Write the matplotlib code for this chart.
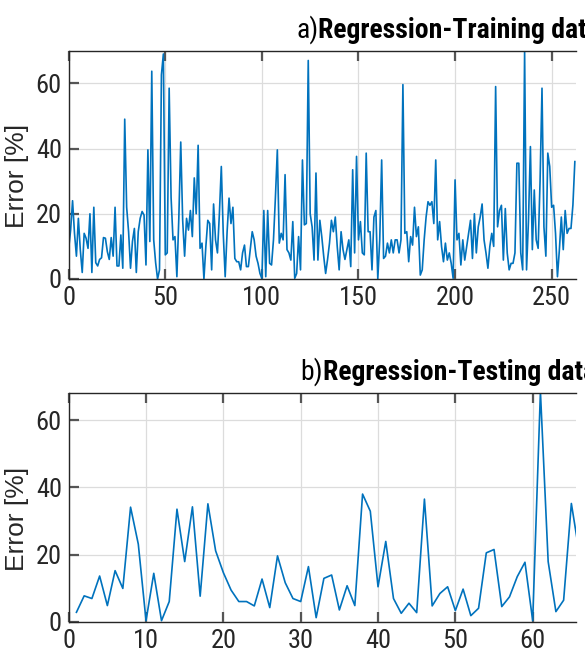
import matplotlib
matplotlib.use("Agg")
import matplotlib.pyplot as plt
from matplotlib import font_manager as fm
import numpy as np

# ---------------- data ----------------
train_err = [
    9.4, 15, 24, 14, 7, 18.6, 9, 2, 14, 12.5,
    9.4, 20, 2, 22, 5, 4, 6, 6.5, 12.7, 12.5,
    8.4, 6, 12.7, 7, 22, 4, 4, 13.5, 3.3, 49,
    22, 14.5, 3.3, 11.5, 15.5, 2, 14.5, 18.6, 20.7, 19.6,
    4.3, 39.6, 11.5, 63.7, 12, 5, 0, 2.8, 62.6, 69,
    7.4, 8, 58.5, 25, 12, 13, 0.7, 18.6, 42, 18,
    7, 18.6, 15, 21, 13, 31, 20, 41, 9.4, 11,
    0, 10, 18, 17, 2.8, 23, 12, 8, 20, 34.5,
    14, 0.7, 14.5, 24.8, 17, 22, 6.3, 5.3, 5.3, 2.8,
    8, 10.4, 3.8, 3.8, 9, 14.5, 12, 7, 4.8, 1.7,
    0.2, 21, 0.7, 21, 4.8, 4.3, 12, 25, 39.6, 11,
    14, 12, 32, 9, 8, 5.8, 17.6, 0.2, 1.7, 13,
    2.8, 36.5, 16.6, 17, 67, 20, 16, 5.8, 32.5, 5.8,
    18, 13, 7, 1.7, 6, 11, 18, 14.5, 19, 10,
    2.8, 14.5, 9, 6, 9, 12, 3.8, 33.5, 8, 37.6,
    12, 17.6, 8, 7.4, 38.6, 14.5, 14.5, 2.8, 19, 21,
    0, 12, 36.5, 6.3, 7, 11, 8, 12, 8, 12,
    12, 8, 12, 59.6, 14, 14.5, 5.3, 13, 10.4, 22,
    13, 16, 1.2, 2.8, 12, 19, 23.7, 22.6, 23.7, 17,
    36.5, 12, 17.6, 10, 5.3, 11, 5.8, 8, 4.8, 0.2,
    30.4, 12, 14, 4.3, 12, 5.8, 10, 14, 18, 6.3,
    20, 8, 16, 19, 23, 12, 8, 3.3, 10, 14,
    10, 59, 16, 21, 22.6, 5.8, 21.6, 8, 2.8, 4.8,
    4.8, 8, 35.5, 35.5, 8, 2.8, 70, 2.8, 18, 40.6,
    9, 27.3, 12, 9.4, 30, 58.5, 16, 7, 38.6, 34.5,
    22, 22.6, 14, 0.7, 9, 19, 9, 21, 14, 15.5,
    15.5, 22.7, 36,
]
test_err = [
    2.8, 7.7, 6.9, 13.6, 4.8, 15.2, 9.9, 34.1, 23.1, 0.3,
    14.4, 0.3, 6.0, 33.5, 17.9, 34.2, 7.6, 35.1, 21.1, 14.6,
    9.4, 6.0, 6.0, 4.7, 12.7, 4.2, 19.6, 11.6, 6.9, 6.0,
    16.4, 1.2, 12.9, 13.9, 3.5, 10.7, 4.8, 38.0, 32.9, 10.4,
    23.9, 6.9, 2.5, 5.5, 2.7, 36.5, 4.7, 8.4, 10.4, 3.3,
    9.7, 1.8, 4.0, 20.5, 21.5, 4.5, 7.4, 13.4, 17.7, 0.3,
    68.5, 17.9, 3.0, 6.4, 35.2, 20.8,
]
train_x = np.arange(len(train_err))
test_x = np.arange(1, len(test_err) + 1)

train_xticks = [0, 50, 100, 150, 200, 250]
test_xticks = [0, 10, 20, 30, 40, 50, 60]
yticks = [0, 20, 40, 60]

# ---------------- fonts ----------------
names = {f.name for f in fm.fontManager.ttflist}
narrow = "DejaVu Sans"
for cand in ["Roboto Condensed", "PT Sans Narrow", "Archivo Narrow", "Barlow Condensed"]:
    if cand in names:
        narrow = cand
        break
plt.rcParams["font.family"] = [narrow, "DejaVu Sans"]
wide = ["Liberation Sans", "DejaVu Sans"]

LINE = "#0072BD"
AXC = "#262626"

W, H = 585, 664
fig = plt.figure(figsize=(W / 100, H / 100), dpi=100)

def px_axes(left, top, right, bottom):
    return fig.add_axes([left / W, 1 - bottom / H, (right - left) / W, (bottom - top) / H])

ax1 = px_axes(68.7, 50.7, 576, 279)
ax2 = px_axes(68.7, 393.3, 576, 621.7)

def style(ax, xticks, xmax, ymax):
    ax.set_xlim(0, xmax)
    ax.set_ylim(0, ymax)
    ax.set_xticks(xticks)
    ax.set_yticks(yticks)
    ax.grid(True, color="#dcdcdc", linewidth=0.9)
    ax.set_axisbelow(True)
    ax.spines["right"].set_visible(False)
    for s in ("left", "top", "bottom"):
        ax.spines[s].set_color(AXC)
        ax.spines[s].set_linewidth(1.0)
    ax.tick_params(axis="both", direction="in", top=True, right=False,
                   length=7, width=1.6, color="#555555",
                   labelsize=19, labelcolor=AXC)
    ax.tick_params(axis="x", pad=5)
    ax.tick_params(axis="y", pad=5)
    ax.set_ylabel("Error [%]", fontsize=19, color=AXC, family=wide)
    ax.yaxis.set_label_coords(-0.078, 0.45)

ax1.plot(train_x, train_err, color=LINE, linewidth=1.2)
style(ax1, train_xticks, 262.6, 70)

ax2.plot(test_x, test_err, color=LINE, linewidth=1.2)
style(ax2, test_xticks, 65.6, 68)

# titles
fig.text(297 / W, 1 - 38 / H, "a)", fontsize=20, color="black", va="baseline", ha="left")
fig.text(318 / W, 1 - 38 / H, "Regression-Training data", fontsize=20, fontweight="bold",
         color="black", va="baseline", ha="left")
fig.text(300 / W, 1 - 380 / H, "b)", fontsize=20, color="black", va="baseline", ha="left")
fig.text(323 / W, 1 - 380 / H, "Regression-Testing data", fontsize=20, fontweight="bold",
         color="black", va="baseline", ha="left")

fig.savefig("out.png", dpi=100)
